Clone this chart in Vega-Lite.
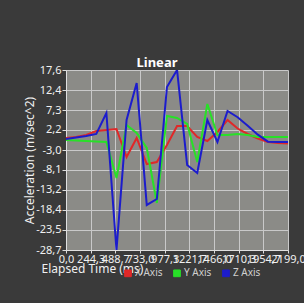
{
  "$schema": "https://vega.github.io/schema/vega-lite/v6.json",
  "autosize": "none",
  "width": 222,
  "height": 180,
  "padding": {"left": 66, "top": 70, "right": 16, "bottom": 53},
  "background": "#3a3a3a",
  "title": {"text": "Linear", "font": "Noto Sans", "fontSize": 13, "fontWeight": "bold", "color": "#ffffff", "anchor": "middle", "dx": -20, "offset": -6},
  "config": {
    "view": {"fill": "#8b8b87", "stroke": null},
    "font": "Noto Sans"
  },
  "data": {
    "values": [
      {"t": 0, "axis": "X Axis", "v": 0.11}, {"t": 100, "axis": "X Axis", "v": 0.37}, {"t": 200, "axis": "X Axis", "v": 0.88}, {"t": 300, "axis": "X Axis", "v": 1.91}, {"t": 400, "axis": "X Axis", "v": 2.17}, {"t": 500, "axis": "X Axis", "v": 2.43}, {"t": 600, "axis": "X Axis", "v": -4.78}, {"t": 700, "axis": "X Axis", "v": 0.11}, {"t": 800, "axis": "X Axis", "v": -6.58}, {"t": 900, "axis": "X Axis", "v": -6.06}, {"t": 1000, "axis": "X Axis", "v": -1.69}, {"t": 1100, "axis": "X Axis", "v": 3.2}, {"t": 1200, "axis": "X Axis", "v": 3.2}, {"t": 1300, "axis": "X Axis", "v": 0.37}, {"t": 1400, "axis": "X Axis", "v": -0.66}, {"t": 1500, "axis": "X Axis", "v": 1.65}, {"t": 1600, "axis": "X Axis", "v": 4.74}, {"t": 1700, "axis": "X Axis", "v": 2.55}, {"t": 1800, "axis": "X Axis", "v": 1.14}, {"t": 1900, "axis": "X Axis", "v": -0.02}, {"t": 2000, "axis": "X Axis", "v": -0.92}, {"t": 2100, "axis": "X Axis", "v": -1.18}, {"t": 2199, "axis": "X Axis", "v": -1.3},
      {"t": 0, "axis": "Y Axis", "v": -0.4}, {"t": 100, "axis": "Y Axis", "v": -0.53}, {"t": 200, "axis": "Y Axis", "v": -0.66}, {"t": 300, "axis": "Y Axis", "v": -0.79}, {"t": 400, "axis": "Y Axis", "v": -0.92}, {"t": 500, "axis": "Y Axis", "v": -10.18}, {"t": 600, "axis": "Y Axis", "v": 3.45}, {"t": 700, "axis": "Y Axis", "v": 1.4}, {"t": 800, "axis": "Y Axis", "v": -2.46}, {"t": 900, "axis": "Y Axis", "v": -16.61}, {"t": 1000, "axis": "Y Axis", "v": 5.77}, {"t": 1100, "axis": "Y Axis", "v": 5.25}, {"t": 1200, "axis": "Y Axis", "v": 3.71}, {"t": 1300, "axis": "Y Axis", "v": -6.06}, {"t": 1400, "axis": "Y Axis", "v": 8.85}, {"t": 1500, "axis": "Y Axis", "v": 0.88}, {"t": 1600, "axis": "Y Axis", "v": 0.88}, {"t": 1700, "axis": "Y Axis", "v": 1.14}, {"t": 1800, "axis": "Y Axis", "v": 0.88}, {"t": 1900, "axis": "Y Axis", "v": 0.37}, {"t": 2000, "axis": "Y Axis", "v": 0.37}, {"t": 2100, "axis": "Y Axis", "v": 0.37}, {"t": 2199, "axis": "Y Axis", "v": 0.37},
      {"t": 0, "axis": "Z Axis", "v": -0.15}, {"t": 100, "axis": "Z Axis", "v": 0.24}, {"t": 200, "axis": "Z Axis", "v": 0.62}, {"t": 300, "axis": "Z Axis", "v": 1.14}, {"t": 400, "axis": "Z Axis", "v": 6.54}, {"t": 500, "axis": "Z Axis", "v": -28.7}, {"t": 600, "axis": "Z Axis", "v": 4.74}, {"t": 700, "axis": "Z Axis", "v": 14.26}, {"t": 800, "axis": "Z Axis", "v": -17.12}, {"t": 900, "axis": "Z Axis", "v": -15.58}, {"t": 1000, "axis": "Z Axis", "v": 13.23}, {"t": 1100, "axis": "Z Axis", "v": 17.6}, {"t": 1200, "axis": "Z Axis", "v": -6.83}, {"t": 1300, "axis": "Z Axis", "v": -8.89}, {"t": 1400, "axis": "Z Axis", "v": 4.74}, {"t": 1500, "axis": "Z Axis", "v": -0.92}, {"t": 1600, "axis": "Z Axis", "v": 7.05}, {"t": 1700, "axis": "Z Axis", "v": 5.46}, {"t": 1800, "axis": "Z Axis", "v": 3.25}, {"t": 1900, "axis": "Z Axis", "v": 0.96}, {"t": 2000, "axis": "Z Axis", "v": -0.84}, {"t": 2100, "axis": "Z Axis", "v": -0.92}, {"t": 2199, "axis": "Z Axis", "v": -0.92}
    ]
  },
  "mark": {"type": "line", "strokeWidth": 2, "clip": true},
  "encoding": {
    "x": {
      "field": "t", "type": "quantitative",
      "scale": {"domain": [0, 2199], "nice": false, "zero": false},
      "axis": {
        "title": "Elapsed Time (ms)",
        "values": [0, 244.33, 488.67, 733.0, 977.33, 1221.67, 1466.0, 1710.33, 1954.67, 2199.0],
        "labelExpr": "replace(format(datum.value, '.1f'), '.', ',')",
        "labelOverlap": false, "labelFlush": false,
        "labelColor": "#f0f0f0", "labelFontSize": 11, "labelPadding": 0,
        "tickColor": "#dddddd", "tickSize": 3,
        "domainColor": "#e0e0e0", "domainWidth": 1,
        "gridColor": "#c9c9c9", "gridWidth": 1, "gridOpacity": 1,
        "titleColor": "#f0f0f0", "titleFontSize": 12, "titleFontWeight": "normal",
        "titleX": -25, "titleY": 13, "titleAlign": "left", "titleBaseline": "top"
      }
    },
    "y": {
      "field": "v", "type": "quantitative",
      "scale": {"domain": [-28.7, 17.6], "nice": false, "zero": false},
      "axis": {
        "title": "Acceleration (m/sec^2)",
        "values": [-28.7, -23.5, -18.4, -13.2, -8.1, -3.0, 2.2, 7.3, 12.4, 17.6],
        "labelExpr": "replace(replace(format(datum.value, '.1f'), '.', ','), '−', '-')",
        "labelColor": "#f0f0f0", "labelFontSize": 11, "labelPadding": 1,
        "tickColor": "#dddddd", "tickSize": 4,
        "domainColor": "#e0e0e0", "domainWidth": 1,
        "gridColor": "#c9c9c9", "gridWidth": 1, "gridOpacity": 1,
        "titleColor": "#f0f0f0", "titleFontSize": 12, "titleFontWeight": "normal",
        "titleX": -37, "titleY": 90, "titleAlign": "center", "titleBaseline": "middle", "titleAngle": 270
      }
    },
    "color": {
      "field": "axis", "type": "nominal",
      "scale": {"domain": ["X Axis", "Y Axis", "Z Axis"], "range": ["#e02828", "#28e028", "#1c1ccc"]},
      "legend": {
        "title": null, "orient": "none", "direction": "horizontal",
        "legendX": 57, "legendY": 198,
        "symbolType": "square", "symbolSize": 45, "symbolStrokeWidth": 1, "symbolOpacity": 1,
        "labelColor": "#cfcfcf", "labelFontSize": 10, "columnPadding": 8, "labelOffset": 2,
        "encode": {"symbols": {"update": {"fill": {"scale": "color", "field": "value"}}}}
      }
    }
  }
}
